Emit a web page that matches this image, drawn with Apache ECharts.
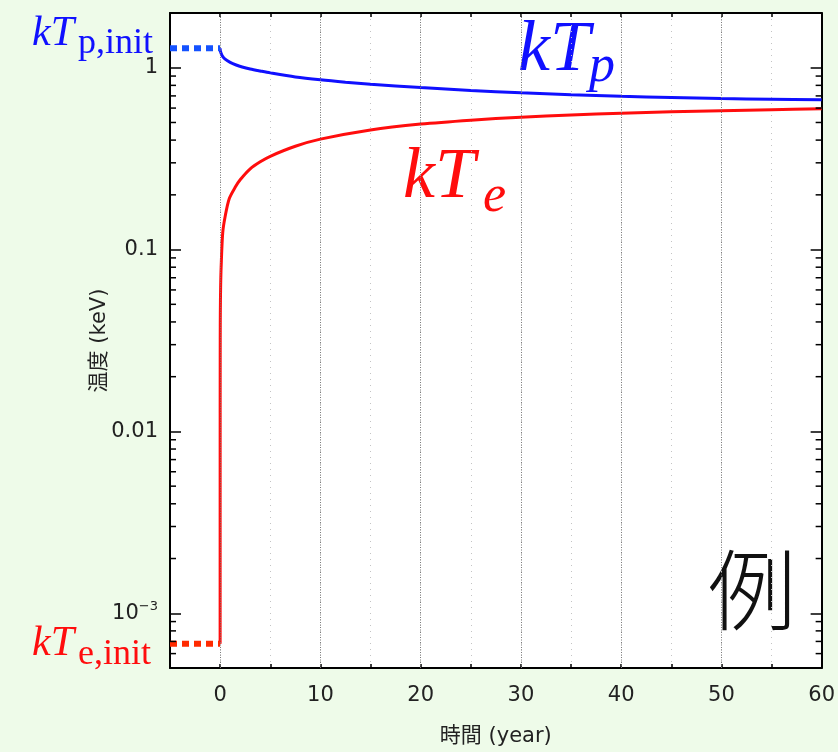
<!DOCTYPE html>
<html>
<head>
<meta charset="utf-8">
<script src="https://cdn.jsdelivr.net/npm/echarts@6/dist/echarts.min.js"></script>
<style>
  html, body { margin: 0; padding: 0; background: #eefbe9; }
  #chart { width: 838px; height: 752px; }
</style>
</head>
<body>
<div id="chart"></div>
<script>
// Proton temperature kT_p (keV) versus time (year)
const protonTime = [0, 0.02, 0.1, 0.25, 0.5, 1, 1.6, 2.2, 3, 4, 5, 7.5, 10, 12.5, 15, 20, 25, 30, 35, 40, 45, 50, 55, 60];
const protonTemp = [1.28, 1.24, 1.2, 1.155, 1.115, 1.07, 1.035, 1.01, 0.985, 0.96, 0.937, 0.89, 0.858, 0.833, 0.812, 0.778, 0.75, 0.728, 0.711, 0.697, 0.686, 0.677, 0.671, 0.666];

// Electron temperature kT_e (keV) versus time (year)
const electronTime = [0, 0.002, 0.005, 0.01, 0.02, 0.05, 0.1, 0.26, 0.5, 0.9, 1.5, 2, 3, 4, 5, 7.5, 10, 15, 20, 25, 30, 35, 40, 45, 50, 55, 60];
const electronTemp = [6.8e-4, 0.008, 0.02, 0.032, 0.045, 0.062, 0.08, 0.124, 0.152, 0.19, 0.22, 0.242, 0.278, 0.304, 0.326, 0.37, 0.405, 0.455, 0.49, 0.515, 0.535, 0.55, 0.562, 0.572, 0.58, 0.588, 0.595];

// Initial temperatures, drawn over t < 0
const initTime = [-5, 0];
const kTpInit = 1.28;
const kTeInit = 6.8e-4;

// Axis ranges and ticks
const X_MIN = -5, X_MAX = 60, X_STEP = 5;
const Y_MIN = 5e-4, Y_MAX = 2;
const xMajorTicks = [0, 10, 20, 30, 40, 50];
const yDecadeLabels = ['10^-3', '0.01', '0.1', '1'];
const yDecadeValues = [1e-3, 1e-2, 1e-1, 1];
const yMinorTicks = [
  6e-4, 7e-4, 8e-4, 9e-4,
  2e-3, 3e-3, 4e-3, 5e-3, 6e-3, 7e-3, 8e-3, 9e-3,
  0.02, 0.03, 0.04, 0.05, 0.06, 0.07, 0.08, 0.09,
  0.2, 0.3, 0.4, 0.5, 0.6, 0.7, 0.8, 0.9
];

const BLUE = '#1010ff';
const RED = '#ff0d0d';
const LABEL_FONT = '"DejaVu Sans", "Noto Sans CJK JP", sans-serif';
const MATH_FONT = '"Liberation Serif", serif';

function pairs(xs, ys) { return xs.map((x, i) => [x, ys[i]]); }

function decadeLabel(v) {
  for (let i = 0; i < yDecadeValues.length; i++) {
    if (Math.abs(Math.log10(v) - Math.log10(yDecadeValues[i])) < 1e-6) {
      const t = yDecadeLabels[i];
      if (t.indexOf('^') >= 0) {
        const p = t.split('^');
        return '{n|' + p[0] + '}{sup|' + p[1].replace('-', '\u2212') + '}';
      }
      return '{n|' + t + '}';
    }
  }
  return '';
}

const chart = echarts.init(document.getElementById('chart'), null, { renderer: 'canvas' });

const axisLineStyle = { color: '#000', width: 2 };

chart.setOption({
  backgroundColor: '#eefbe9',
  animation: false,
  grid: { left: 170, right: 10, top: 13, bottom: 82, show: true, backgroundColor: '#ffffff', borderWidth: 0 },
  xAxis: [
    {
      type: 'value', min: X_MIN, max: X_MAX, interval: X_STEP, position: 'bottom',
      name: '時間 (year)', nameLocation: 'middle', nameGap: 58, nameMoveOverlap: false,
      nameTextStyle: { fontFamily: LABEL_FONT, fontSize: 21, color: '#222' },
      axisLine: { show: true, onZero: false, lineStyle: axisLineStyle },
      axisTick: { show: true, inside: true, length: 4, lineStyle: { color: '#000', width: 1.5 } },
      axisLabel: {
        fontFamily: LABEL_FONT, fontSize: 21, color: '#222', margin: 17, showMaxLabel: true, showMinLabel: false,
        formatter: v => (xMajorTicks.indexOf(v) >= 0 || v === X_MAX) ? String(v) : ''
      },
      splitLine: { show: true, lineStyle: { color: '#c4c4c4', type: [1, 5], width: 1 } }
    },
    {
      type: 'value', min: X_MIN, max: X_MAX, interval: X_STEP, position: 'top',
      axisLine: { show: true, onZero: false, lineStyle: axisLineStyle },
      axisTick: { show: true, inside: true, length: 4, lineStyle: { color: '#000', width: 1.5 } },
      axisLabel: { show: false },
      splitLine: { show: false }
    }
  ],
  yAxis: [
    {
      type: 'log', logBase: 10, min: Y_MIN, max: Y_MAX, position: 'left',
      name: '温度 (keV)', nameLocation: 'middle', nameGap: 60, nameRotate: 90, nameMoveOverlap: false,
      nameTextStyle: { fontFamily: LABEL_FONT, fontSize: 21, color: '#222' },
      axisLine: { show: true, onZero: false, lineStyle: axisLineStyle },
      axisTick: { show: true, inside: true, length: 11, lineStyle: { color: '#000', width: 1.5 } },
      axisLabel: {
        margin: 12, formatter: decadeLabel, showMinLabel: false, showMaxLabel: false,
        rich: {
          n: { fontFamily: LABEL_FONT, fontSize: 21, color: '#222' },
          sup: { fontFamily: LABEL_FONT, fontSize: 13, color: '#222', verticalAlign: 'top', padding: [0, 0, 14, 0] }
        }
      },
      splitLine: { show: false }
    },
    {
      type: 'log', logBase: 10, min: Y_MIN, max: Y_MAX, position: 'right',
      axisLine: { show: true, onZero: false, lineStyle: axisLineStyle },
      axisTick: { show: true, inside: true, length: 11, lineStyle: { color: '#000', width: 1.5 } },
      axisLabel: { show: false },
      splitLine: { show: false }
    }
  ],
  series: [
    {
      // minor log ticks on both vertical borders, plus dense dotted grid at the labelled years
      type: 'custom', silent: true, clip: false, z: 5,
      data: yMinorTicks.map(v => [X_MIN, v]),
      encode: { x: 0, y: 1 },
      renderItem(params, api) {
        const v = api.value(1);
        const l = api.coord([X_MIN, v]);
        const r = api.coord([X_MAX, v]);
        const st = { stroke: '#000', lineWidth: 1.5 };
        return {
          type: 'group', children: [
            { type: 'line', shape: { x1: l[0], y1: l[1], x2: l[0] + 6, y2: l[1] }, style: st },
            { type: 'line', shape: { x1: r[0], y1: r[1], x2: r[0] - 6, y2: r[1] }, style: st }
          ]
        };
      },
      markLine: {
        silent: true, symbol: ['none', 'none'], label: { show: false },
        lineStyle: { color: '#7a7a7a', type: [1, 1.5], width: 1 },
        data: xMajorTicks.map(v => ({ xAxis: v }))
      }
    },
    {
      name: 'kTp', type: 'line', showSymbol: false, smooth: 0.3, z: 3,
      data: pairs(protonTime, protonTemp),
      lineStyle: { color: BLUE, width: 3 }
    },
    {
      name: 'kTe', type: 'line', showSymbol: false, smooth: 0.3, z: 3,
      data: pairs(electronTime, electronTemp),
      lineStyle: { color: RED, width: 3 }
    },
    {
      name: 'kTp init', type: 'line', showSymbol: false, z: 4,
      data: initTime.map(t => [t, kTpInit]),
      lineStyle: { color: '#1452ff', width: 6, type: [7, 5] }
    },
    {
      name: 'kTe init', type: 'line', showSymbol: false, z: 4,
      data: initTime.map(t => [t, kTeInit]),
      lineStyle: { color: '#ff2a00', width: 6, type: [7, 5] }
    }
  ],
  graphic: [
    { type: 'text', x: 32, y: 34, style: { text: 'kT', font: 'italic 42px ' + MATH_FONT, fill: BLUE, verticalAlign: 'middle' } },
    { type: 'text', x: 78, y: 44, style: { text: 'p,init', font: '36px ' + MATH_FONT, fill: BLUE, verticalAlign: 'middle' } },
    { type: 'text', x: 32, y: 644, style: { text: 'kT', font: 'italic 42px ' + MATH_FONT, fill: RED, verticalAlign: 'middle' } },
    { type: 'text', x: 78, y: 655, style: { text: 'e,init', font: '36px ' + MATH_FONT, fill: RED, verticalAlign: 'middle' } },
    { type: 'text', x: 518, y: 51, style: { text: 'kT', font: 'italic 72px ' + MATH_FONT, fill: BLUE, verticalAlign: 'middle' } },
    { type: 'text', x: 589, y: 67, style: { text: 'p', font: 'italic 52px ' + MATH_FONT, fill: BLUE, verticalAlign: 'middle' } },
    { type: 'text', x: 403, y: 178, style: { text: 'kT', font: 'italic 72px ' + MATH_FONT, fill: RED, verticalAlign: 'middle' } },
    { type: 'text', x: 483, y: 197, style: { text: 'e', font: 'italic 52px ' + MATH_FONT, fill: RED, verticalAlign: 'middle' } },
    { type: 'text', x: 752, y: 590, style: { text: '例', font: '300 88px "Noto Sans CJK JP", sans-serif', fill: '#111', align: 'center', verticalAlign: 'middle' } }
  ]
});
</script>
</body>
</html>
